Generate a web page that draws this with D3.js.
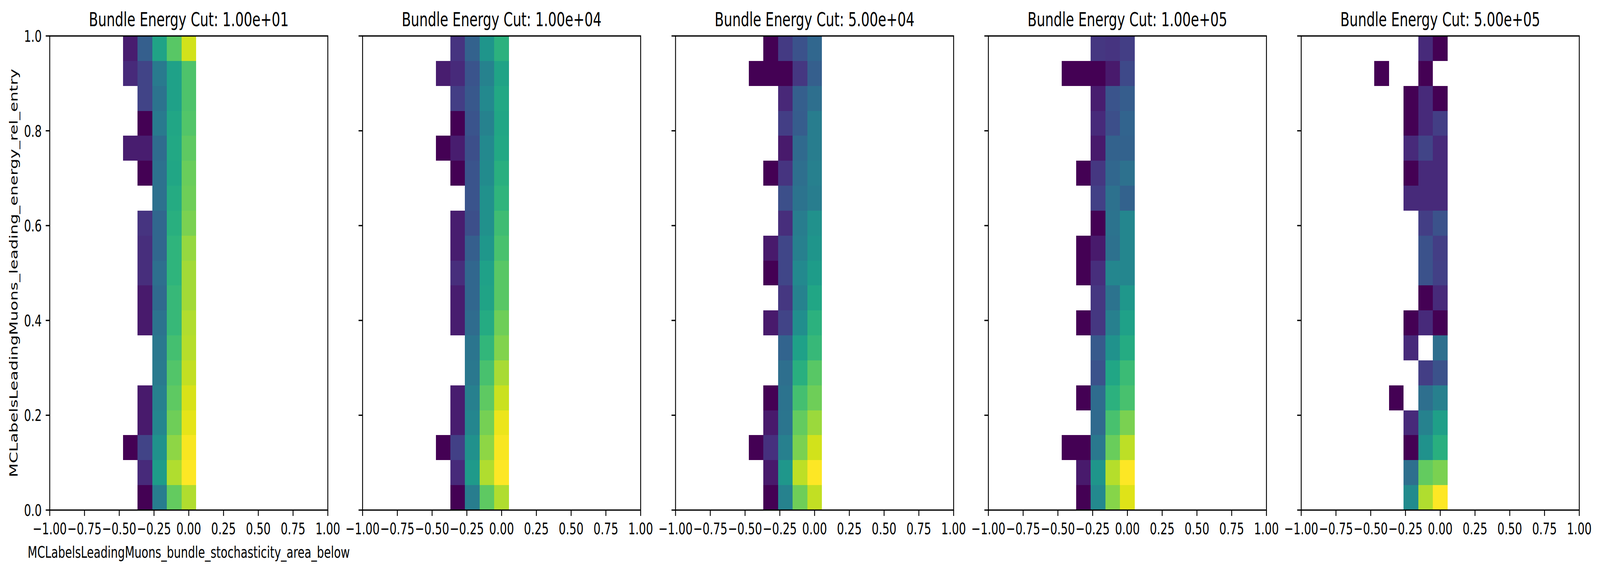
<!DOCTYPE html>
<html>
<head>
<meta charset="utf-8">
<script src="https://cdn.jsdelivr.net/npm/d3@7"></script>
<style>
html,body{margin:0;padding:0;background:#fff;overflow:hidden;}
svg{display:block;width:100vw;height:100vh;}
text{font-family:"DejaVu Sans";fill:#000;}
</style>
</head>
<body>
<script>
const titles = ["Bundle Energy Cut: 1.00e+01","Bundle Energy Cut: 1.00e+04","Bundle Energy Cut: 5.00e+04","Bundle Energy Cut: 1.00e+05","Bundle Energy Cut: 5.00e+05"];
const xLabel = "MCLabelsLeadingMuons_bundle_stochasticity_area_below";
const yLabel = "MCLabelsLeadingMuons_leading_energy_rel_entry";
const xTicks = [-1,-0.75,-0.5,-0.25,0,0.25,0.5,0.75,1];
const yTicks = [0,0.2,0.4,0.6,0.8,1];
// edges of the five occupied x bins, and all y bin edges (19 bins over each axis)
const xBinEdges = [-0.4737,-0.3684,-0.2632,-0.1579,-0.0526,0.0526];
const yBinEdges = [0,0.0526,0.1053,0.1579,0.2105,0.2632,0.3158,0.3684,0.4211,0.4737,0.5263,0.5789,0.6316,0.6842,0.7368,0.7895,0.8421,0.8947,0.9474,1];
const _ = null;
// colour-normalised (log) counts, rows listed from the top row (y≈1) to the bottom row (y≈0)
const cut1e1 = [
[.08,.30,.58,.74,.93],[.12,.20,.41,.57,.72],[_,.20,.38,.57,.72],[_,0,.41,.59,.73],[.08,.08,.35,.60,.75],
[_,0,.37,.59,.77],[_,_,.37,.61,.78],[_,.15,.33,.63,.80],[_,.13,.33,.65,.84],[_,.13,.36,.65,.86],
[_,.07,.34,.67,.86],[_,.07,.38,.67,.88],[_,_,.40,.70,.89],[_,_,.41,.73,.91],[_,.07,.43,.75,.94],
[_,.07,.46,.78,.96],[0,.20,.51,.83,.99],[_,.12,.55,.88,1],[_,0,.42,.76,.88]];
const cut1e4 = [
[_,.15,.31,.52,.64],[.08,.12,.26,.44,.58],[_,.18,.27,.47,.60],[_,0,.26,.44,.59],[0,.08,.24,.47,.60],
[_,0,.26,.48,.63],[_,_,.26,.50,.65],[_,.08,.24,.50,.69],[_,.08,.30,.53,.71],[_,.13,.33,.57,.74],
[_,.08,.33,.58,.74],[_,.08,.35,.61,.78],[_,_,.39,.66,.81],[_,_,.40,.71,.87],[_,.08,.43,.75,.92],
[_,.08,.46,.79,.97],[0,.19,.50,.83,.99],[_,.12,.54,.88,1],[_,0,.42,.75,.88]];
const cut5e4 = [
[_,0,.17,.25,.33],[0,0,0,.16,.30],[_,_,.11,.30,.36],[_,_,.18,.29,.42],[_,_,.07,.34,.42],
[_,0,.15,.36,.43],[_,_,.24,.38,.42],[_,_,.13,.42,.50],[_,.07,.21,.43,.52],[_,0,.21,.47,.55],
[_,_,.16,.44,.59],[_,.07,.20,.49,.64],[_,_,.32,.57,.67],[_,_,.36,.63,.74],[_,0,.38,.70,.78],
[_,.07,.39,.76,.85],[0,.14,.43,.80,.93],[_,.07,.53,.90,1],[_,0,.44,.78,.91]];
const cut1e5 = [
[_,_,.16,.15,.18],[0,0,0,.07,.22],[_,_,.08,.26,.29],[_,_,.12,.24,.32],[_,_,.07,.31,.31],
[_,0,.16,.33,.37],[_,_,.19,.37,.31],[_,_,0,.38,.46],[_,0,.07,.37,.46],[_,0,.13,.46,.46],
[_,_,.16,.38,.53],[_,0,.16,.43,.57],[_,_,.28,.51,.61],[_,_,.25,.59,.68],[_,0,.35,.64,.71],
[_,_,.34,.71,.80],[0,0,.40,.77,.90],[_,.07,.52,.89,1],[_,0,.47,.82,.95]];
const cut5e5 = [
[_,_,_,.12,0],[0,_,_,0,_],[_,_,0,.12,0],[_,_,0,.12,.18],[_,_,.12,.20,.12],
[_,_,0,.12,.12],[_,_,.12,.12,.12],[_,_,_,.18,.25],[_,_,_,.25,.18],[_,_,_,.25,.19],
[_,_,_,0,.12],[_,_,0,.12,0],[_,_,.12,_,.36],[_,_,_,.18,.25],[_,0,_,.36,.43],
[_,_,.12,.44,.56],[_,_,0,.51,.63],[_,_,.36,.76,.80],[_,_,.48,.88,1]];
const panels = [cut1e1,cut1e4,cut5e4,cut1e5,cut5e5];

const W = 5984, H = 1466;
const panelLeft = [186,1356,2526.5,3696.5,4866.5];
const panelW = 1040, plotTop = 92, plotBottom = 1305;
const fs = 41.67, stroke = 3.33, tickLen = 15, pad = 15;

// The window the page really gets can be narrower than the reference: map the full layout onto it.
const svg = d3.select("body").append("svg").attr("viewBox",`0 0 ${W} ${H}`).attr("preserveAspectRatio","none");
const color = d3.scaleSequential(d3.interpolateViridis).domain([0,1]);

panels.forEach((rows,pi)=>{
  const x = d3.scaleLinear().domain([-1,1]).range([panelLeft[pi],panelLeft[pi]+panelW]);
  const y = d3.scaleLinear().domain([0,1]).range([plotBottom,plotTop]);
  const g = svg.append("g");
  const cells = rows.flatMap((r,ri)=>r.map((v,ci)=>({v,ri,ci}))).filter(d=>d.v!==null);
  g.selectAll("rect.cell").data(cells).enter().append("rect").attr("class","cell")
    .attr("x",d=>x(xBinEdges[d.ci]))
    .attr("width",d=>x(xBinEdges[d.ci+1])-x(xBinEdges[d.ci]))
    .attr("y",d=>y(yBinEdges[rows.length-d.ri]))
    .attr("height",d=>y(yBinEdges[rows.length-d.ri-1])-y(yBinEdges[rows.length-d.ri]))
    .attr("fill",d=>color(d.v))
    .attr("shape-rendering","crispEdges");

  g.append("rect").attr("x",x.range()[0]).attr("y",plotTop).attr("width",panelW).attr("height",plotBottom-plotTop)
    .attr("fill","none").attr("stroke","#000").attr("stroke-width",stroke);

  const ax = g.append("g").attr("transform",`translate(0,${plotBottom})`)
    .call(d3.axisBottom(x).tickValues(xTicks).tickFormat(d3.format(".2f")).tickSize(tickLen).tickSizeOuter(0).tickPadding(pad).offset(0));
  const ay = g.append("g").attr("transform",`translate(${x.range()[0]},0)`)
    .call(d3.axisLeft(y).tickValues(yTicks).tickFormat(pi===0?d3.format(".1f"):()=> "").tickSize(tickLen).tickSizeOuter(0).tickPadding(pad).offset(0));
  [ax,ay].forEach(a=>{
    a.select(".domain").remove();
    a.selectAll("line").attr("stroke","#000").attr("stroke-width",stroke);
    a.selectAll("text").attr("font-size",fs).attr("font-family","DejaVu Sans").attr("fill","#000");
  });
  ax.selectAll("text").attr("dy",null).attr("y",1367-plotBottom);
  ay.selectAll("text").attr("dy","0.36em");

  g.append("text").attr("x",x(0)).attr("y",67).attr("text-anchor","middle").attr("font-size",50).text(titles[pi]);
  if(pi===0){
    g.append("text").attr("x",x(0)).attr("y",1427).attr("text-anchor","middle").attr("font-size",fs).text(xLabel);
    g.append("text").attr("transform",`translate(66,${(plotTop+plotBottom)/2}) rotate(-90)`).attr("text-anchor","middle").attr("font-size",fs).text(yLabel);
  }
});
</script>
</body>
</html>
